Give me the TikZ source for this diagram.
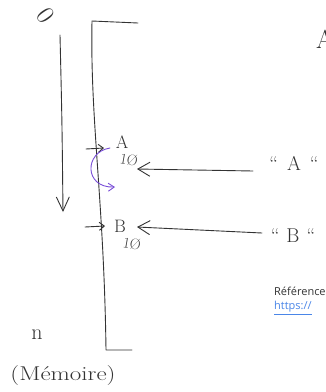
\documentclass[tikz,border=0pt]{standalone}
\usepackage{fontspec}
\newfontfamily\typed{Open Sans}
\usetikzlibrary{arrows.meta}
\definecolor{ink}{HTML}{333333}
\definecolor{pen}{HTML}{7A4FD8}
\definecolor{linkblue}{HTML}{4A86E8}
\tikzset{
  stroke/.style={draw=ink, line width=0.9pt, line cap=round, line join=round},
  bigbarb/.style={-{Straight Barb[length=12pt,width=14pt,line width=0.9pt]}},
  smallbarb/.style={-{Straight Barb[length=5pt,width=8pt,line width=0.9pt]}},
  hand/.style={text=ink, inner sep=0pt, font=\fontsize{18}{18}\selectfont},
  typedtext/.style={inner sep=0pt, anchor=west, font=\typed\fontsize{11}{13}\selectfont}
}
\begin{document}
\begin{tikzpicture}[x=1pt,y=-1pt]
\clip (0,0) rectangle (325,392);
\fill[white] (0,0) rectangle (325,392);

% zero label
\node[hand, rotate=-55, font=\fontsize{26}{26}\selectfont] (zero) at (46,16) {0};
% top-right partial letter
\node[hand, anchor=west, font=\fontsize{26}{26}\selectfont] (topA) at (316,39) {A};

% downward arrow
\coordinate (ls) at (60,35);
\coordinate (le) at (63,212);
\draw[stroke, -{Straight Barb[length=14pt,width=13pt,line width=0.9pt]}] (ls) .. controls (62,120) .. (le);

% memory bracket
\coordinate (bTR) at (138,23);
\coordinate (bTL) at (92,21);
\coordinate (bBL) at (106,350);
\coordinate (bBR) at (132,350);
\draw[stroke] (bTR) -- (bTL) .. controls (90,120) and (104,200) .. (bBL) -- (bBR);

% cell A
\coordinate (a0) at (86,149);
\coordinate (a1) at (104,148);
\draw[stroke, smallbarb] (a0) -- (a1);
\node[hand] (Ah) at (122,142) {A};
\node[hand, font=\fontsize{15}{15}\selectfont, rotate=-10] (A10) at (129,160) {1Ø};

% cell B
\coordinate (b0) at (85,227);
\coordinate (b1) at (105,226);
\draw[stroke, smallbarb] (b0) -- (b1);
\node[hand] (Bh) at (120,226) {B};
\node[hand, font=\fontsize{15}{15}\selectfont, rotate=-10] (B10) at (132,244) {1Ø};

% purple move arrow
\coordinate (p0) at (110,148);
\coordinate (p1) at (115,187);
\draw[draw=pen, line width=0.9pt, line cap=round, -{Straight Barb[length=6pt,width=8pt,line width=0.9pt]}] (p0) .. controls (84,152) and (84,188) .. (p1);

% labels "A" and "B"
\node[hand, font=\fontsize{20}{20}\selectfont] (Aq) at (294,163) {``\hspace{9pt}A\hspace{9pt}``};
\node[hand, font=\fontsize{20}{20}\selectfont] (Bq) at (293,236) {``\hspace{7pt}B\hspace{7pt}``};
\coordinate (Aend) at (137,169);
\coordinate (Bend) at (137,227);
\draw[stroke, bigbarb] (253,171) -- (Aend);
\draw[stroke, bigbarb] (262,233) -- (Bend);

% bottom labels
\node[hand, font=\fontsize{22}{22}\selectfont] (n) at (37,335) {n};
\node[hand, font=\fontsize{20}{20}\selectfont, xscale=1.25] (mem) at (63,376) {(Mémoire)};

% typed reference
\node[typedtext, text=ink] (ref) at (274,291) {Références};
\node[typedtext, text=linkblue] (url) at (274,308) {\underline{https://}};
\end{tikzpicture}
\end{document}
